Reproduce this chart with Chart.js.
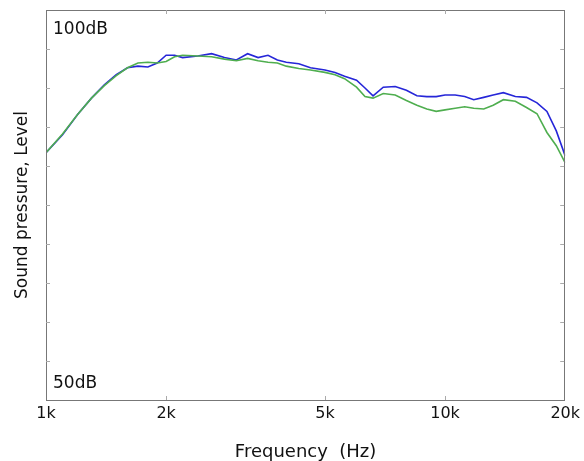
<!DOCTYPE html>
<html>
<head>
<meta charset="utf-8">
<script src="https://cdn.jsdelivr.net/npm/chart.js@4/dist/chart.umd.min.js"></script>
<style>
  html, body { margin: 0; padding: 0; background: #fff; }
  #wrap { width: 584px; height: 461px; }
</style>
</head>
<body>
<div id="wrap"><canvas id="Cnvs"></canvas></div>
<script>
// frequency grid (Hz) and the two measured responses (dB)
var freqs = [1000, 1100, 1200, 1300, 1400, 1500, 1600, 1700, 1800, 1900, 2000, 2100, 2200, 2400,
  2600, 2800, 3000, 3200, 3400, 3600, 3800, 4000, 4300, 4600, 5000, 5300, 5600, 6000, 6300,
  6600, 7000, 7500, 8000, 8500, 9000, 9500, 10000, 10600, 11200, 11800, 12500, 13200, 14000,
  15000, 16000, 17000, 18000, 19000, 20000];
var blueDb = [81.7, 84.0, 86.6, 88.7, 90.4, 91.7, 92.6, 92.8, 92.7, 93.2, 94.2, 94.2, 93.9, 94.1,
  94.4, 93.9, 93.6, 94.4, 93.9, 94.2, 93.6, 93.3, 93.1, 92.6, 92.3, 92.0, 91.5, 91.0, 90.0,
  89.0, 90.1, 90.2, 89.7, 89.0, 88.9, 88.9, 89.1, 89.1, 88.9, 88.5, 88.8, 89.1, 89.4,
  88.9, 88.8, 88.1, 87.0, 84.5, 81.3];
var greenDb = [81.7, 84.1, 86.6, 88.7, 90.3, 91.6, 92.6, 93.2, 93.3, 93.2, 93.4, 94.0, 94.2, 94.1,
  94.0, 93.7, 93.5, 93.8, 93.5, 93.3, 93.2, 92.8, 92.5, 92.3, 92.0, 91.7, 91.2, 90.1, 88.9,
  88.7, 89.3, 89.1, 88.4, 87.8, 87.3, 87.0, 87.2, 87.4, 87.6, 87.4, 87.3, 87.8, 88.5,
  88.3, 87.5, 86.7, 84.3, 82.6, 80.4];
var xTicks = [1000, 2000, 5000, 10000, 20000];
var yTicks = [55, 60, 65, 70, 75, 80, 85, 90, 95];

function pts(ys) {
  return freqs.map(function(f, i) { return { x: f, y: ys[i] }; });
}

var frameColor = '#777777';
var textFont = 'DejaVu Sans, Verdana, sans-serif';

var framePlugin = {
  id: 'frame',
  afterDraw: function(chart) {
    var c = chart.ctx, a = chart.chartArea;
    var xs = chart.scales.x, ys = chart.scales.y;
    c.save();
    c.strokeStyle = frameColor;
    c.lineWidth = 1;
    c.strokeRect(Math.round(a.left) + 0.5, Math.round(a.top) + 0.5,
      Math.round(a.right - a.left) - 1, Math.round(a.bottom - a.top));
    c.strokeStyle = '#aaaaaa';
    c.beginPath();
    yTicks.forEach(function(v) {
      var py = Math.round(ys.getPixelForValue(v)) + 0.5;
      c.moveTo(a.left, py); c.lineTo(a.left + 4, py);
      c.moveTo(a.right - 1, py); c.lineTo(a.right - 5, py);
    });
    xTicks.slice(1, -1).forEach(function(v) {
      var px = Math.round(xs.getPixelForValue(v)) + 0.5;
      c.moveTo(px, a.bottom); c.lineTo(px, a.bottom - 4);
      c.moveTo(px, a.top); c.lineTo(px, a.top + 4);
    });
    c.stroke();

    c.fillStyle = '#111111';
    c.font = '17px ' + textFont;
    c.textAlign = 'left';
    c.textBaseline = 'alphabetic';
    c.fillText('100dB', 53, 34);
    c.fillText('50dB', 53, 388);

    c.font = '18px ' + textFont;
    c.textAlign = 'center';
    c.fillText('Frequency  (Hz)', (a.left + a.right) / 2, 457);

    c.save();
    c.translate(27, (a.top + a.bottom) / 2);
    c.rotate(-Math.PI / 2);
    c.font = '17px ' + textFont;
    c.fillText('Sound pressure, Level', 0, 0);
    c.restore();
    c.restore();
  }
};

var Cnvs = document.getElementById('Cnvs').getContext('2d');
var lineChart = new Chart(Cnvs, {
  type: 'line',
  data: {
    datasets: [
      { label: 'green', data: pts(greenDb), borderColor: '#4fae4f', borderWidth: 1.6, pointRadius: 0, tension: 0, fill: false },
      { label: 'blue', data: pts(blueDb), borderColor: '#2626d8', borderWidth: 1.6, pointRadius: 0, tension: 0, fill: false }
    ]
  },
  options: {
    responsive: true,
    maintainAspectRatio: false,
    animation: false,
    layout: { padding: { left: 0, right: 17, top: 10, bottom: 0 } },
    plugins: { legend: { display: false }, tooltip: { enabled: false } },
    scales: {
      x: {
        type: 'logarithmic',
        min: 1000,
        max: 20000,
        afterBuildTicks: function(scale) {
          scale.ticks = xTicks.map(function(v) { return { value: v }; });
        },
        afterFit: function(scale) { scale.height = 61; },
        ticks: {
          autoSkip: false,
          maxRotation: 0,
          padding: 4,
          color: '#111111',
          font: { family: textFont, size: 16 },
          callback: function(v) { return (v / 1000) + 'k'; }
        },
        grid: { display: false, drawTicks: false },
        border: { display: false }
      },
      y: {
        min: 50,
        max: 100,
        afterFit: function(scale) { scale.width = 46; },
        ticks: { display: false },
        grid: { display: false, drawTicks: false },
        border: { display: false }
      }
    }
  },
  plugins: [framePlugin]
});
</script>
</body>
</html>
